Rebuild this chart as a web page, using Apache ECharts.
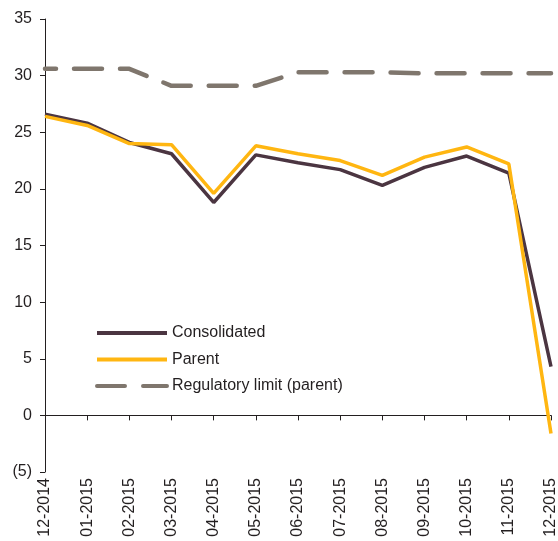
<!DOCTYPE html>
<html>
<head>
<meta charset="utf-8">
<script src="https://cdn.jsdelivr.net/npm/echarts@6/dist/echarts.min.js"></script>
<style>
  html, body { margin: 0; padding: 0; background: #ffffff; }
  #chart { width: 558px; height: 541px; }
</style>
</head>
<body>
<div id="chart"></div>
<script>
// Month-end capital ratio observations (%)
const months = ['12-2014', '01-2015', '02-2015', '03-2015', '04-2015', '05-2015',
                '06-2015', '07-2015', '08-2015', '09-2015', '10-2015', '11-2015', '12-2015'];
const consolidated = [26.6, 25.8, 24.1, 23.1, 18.8, 23.0, 22.3, 21.7, 20.3, 21.9, 22.9, 21.4, 4.3];
const parent       = [26.4, 25.6, 24.0, 23.9, 19.6, 23.8, 23.1, 22.5, 21.2, 22.8, 23.7, 22.2, -1.6];
const regulatory   = [30.6, 30.6, 30.6, 29.1, 29.1, 29.1, 30.3, 30.3, 30.3, 30.2, 30.2, 30.2, 30.2];
const yTicks = { min: -5, max: 35, step: 5 };

const FONT = '"Liberation Sans", Arial, Helvetica, sans-serif';
const TEXT = '#231f20';

const chart = echarts.init(document.getElementById('chart'), null, { renderer: 'canvas' });

chart.setOption({
  animation: false,
  backgroundColor: '#ffffff',
  grid: { left: 45, right: 7, top: 19, bottom: 69, containLabel: false, outerBoundsMode: 'none' },
  legend: {
    orient: 'vertical',
    left: 95,
    top: 325,
    padding: 0,
    itemWidth: 70,
    itemHeight: 14,
    itemGap: 10.5,
    itemStyle: { opacity: 0 },
    lineStyle: { width: 4 },
    textStyle: { fontFamily: FONT, fontSize: 16, color: TEXT, lineHeight: 14 },
    data: [
      'Consolidated',
      'Parent',
      { name: 'Regulatory limit (parent)', lineStyle: { width: 4, dashOffset: 0 } }
    ]
  },
  xAxis: {
    type: 'category',
    data: months,
    boundaryGap: false,
    axisLine: { onZero: true, lineStyle: { color: '#231f20', width: 1 } },
    axisTick: { show: true, length: 5, lineStyle: { color: '#231f20' } },
    axisLabel: {
      rotate: 90,
      margin: 6,
      fontFamily: FONT,
      fontSize: 16,
      color: TEXT
    },
    splitLine: { show: false }
  },
  yAxis: {
    type: 'value',
    min: yTicks.min,
    max: yTicks.max,
    interval: yTicks.step,
    axisLine: { show: true, lineStyle: { color: '#231f20', width: 1 } },
    axisTick: { show: true, length: 5, lineStyle: { color: '#231f20' } },
    axisLabel: {
      margin: 13,
      fontFamily: FONT,
      fontSize: 16,
      color: TEXT,
      formatter: v => (v < 0 ? '(' + Math.abs(v) + ')' : String(v))
    },
    splitLine: { show: false }
  },
  series: [
    {
      name: 'Regulatory limit (parent)',
      type: 'line',
      data: regulatory,
      symbol: 'none',
      z: 1,
      lineStyle: { color: '#7f766d', width: 4.5, type: [28, 18], dashOffset: 17, cap: 'round' },
      itemStyle: { color: '#7f766d' }
    },
    {
      name: 'Consolidated',
      type: 'line',
      data: consolidated,
      symbol: 'none',
      z: 2,
      lineStyle: { color: '#4b3541', width: 3.5 },
      itemStyle: { color: '#4b3541' }
    },
    {
      name: 'Parent',
      type: 'line',
      data: parent,
      symbol: 'none',
      z: 3,
      lineStyle: { color: '#ffb611', width: 3.5 },
      itemStyle: { color: '#ffb611' }
    }
  ]
});
</script>
</body>
</html>
